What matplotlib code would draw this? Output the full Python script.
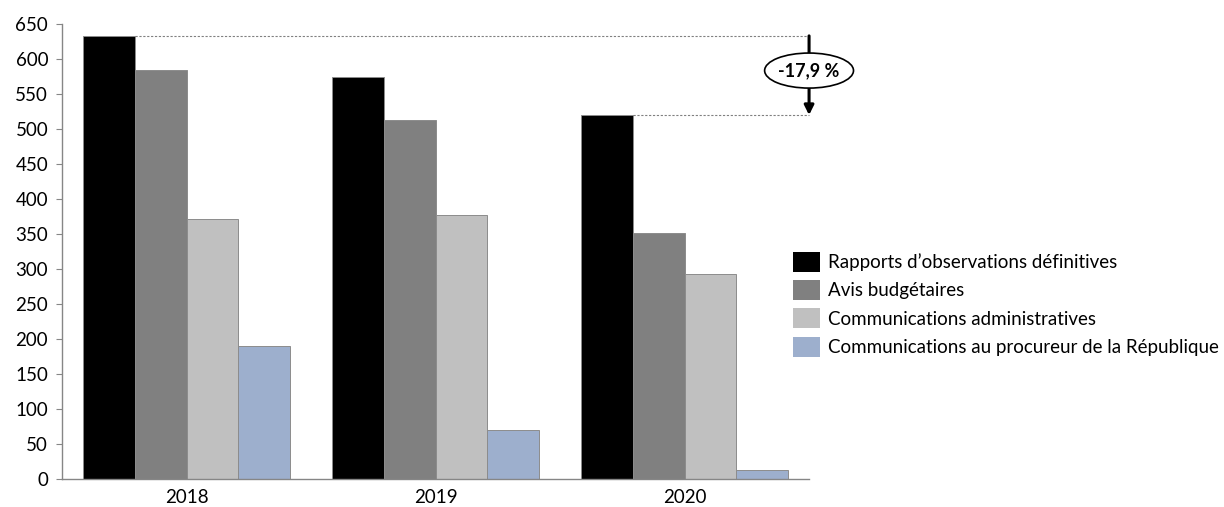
import matplotlib
matplotlib.use("Agg")
import matplotlib.pyplot as plt
import matplotlib.patches as mpatches
import numpy as np

years = ["2018", "2019", "2020"]
series_names = [
    "Rapports d\u2019observations définitives",
    "Avis budgétaires",
    "Communications administratives",
    "Communications au procureur de la République",
]
rapports = [633, 574, 520]
avis = [585, 513, 351]
comm_admin = [371, 378, 293]
comm_proc = [190, 70, 13]
colors = ["#000000", "#808080", "#c0c0c0", "#9dafcd"]
change_label = "-17,9 %"

plt.rcParams["font.family"] = ["Lato", "DejaVu Sans"]

fig = plt.figure(figsize=(12.24, 5.07), dpi=100)
ax = fig.add_axes([0.0507, 0.0546, 0.6103, 0.8981])

x = np.arange(len(years))
w = 0.208
all_series = [rapports, avis, comm_admin, comm_proc]
for i, (vals, col, name) in enumerate(zip(all_series, colors, series_names)):
    ax.bar(x + (i - 1.5) * w, vals, width=w, color=col, edgecolor="#8c8c8c",
           linewidth=0.7, label=name, zorder=2)

ax.set_xlim(-0.5, 2.5)
ax.set_ylim(0, 650)
ax.set_yticks(np.arange(0, 651, 50))
ax.set_xticks(x)
ax.set_xticklabels(years)
ax.tick_params(axis="y", length=4, color="#868686", labelsize=13.5, pad=6)
ax.tick_params(axis="x", length=0, labelsize=13.5, pad=7)
for s in ("top", "right"):
    ax.spines[s].set_visible(False)
for s in ("left", "bottom"):
    ax.spines[s].set_color("#868686")
    ax.spines[s].set_linewidth(1.0)

# dashed reference lines + arrow showing the drop
x_end = 2.5
x_start = x[0] - 1.5 * w + w / 2
x_start2 = x[2] - 1.5 * w + w / 2
ax.plot([x_start, x_end], [rapports[0], rapports[0]], ls=(0, (2, 1.5)), color="#808080",
        lw=0.8, clip_on=False, zorder=3)
ax.plot([x_start2, x_end], [rapports[2], rapports[2]], ls=(0, (2, 1.5)), color="#808080",
        lw=0.8, clip_on=False, zorder=3)
ax.annotate("", xy=(x_end, rapports[2]), xytext=(x_end, rapports[0]),
            arrowprops=dict(arrowstyle="-|>", lw=2.2, color="black", mutation_scale=14,
                            shrinkA=0, shrinkB=0),
            annotation_clip=False)
mid = (rapports[0] + rapports[2]) / 2 + 7
ell = mpatches.Ellipse((x_end, mid), 0.357, 50, facecolor="white", edgecolor="black",
                       lw=1.2, clip_on=False, zorder=5)
ax.add_patch(ell)
ax.text(x_end, mid, change_label, ha="center", va="center", fontsize=13,
        fontweight="bold", zorder=6, clip_on=False)

leg = fig.legend(loc="center left", bbox_to_anchor=(0.634, 0.40), frameon=False,
                 fontsize=13.5, handlelength=1.45, handleheight=1.25,
                 handletextpad=0.4, labelspacing=0.45)
for h in leg.legend_handles:
    h.set_edgecolor("none")

fig.savefig("out.png", dpi=100)
